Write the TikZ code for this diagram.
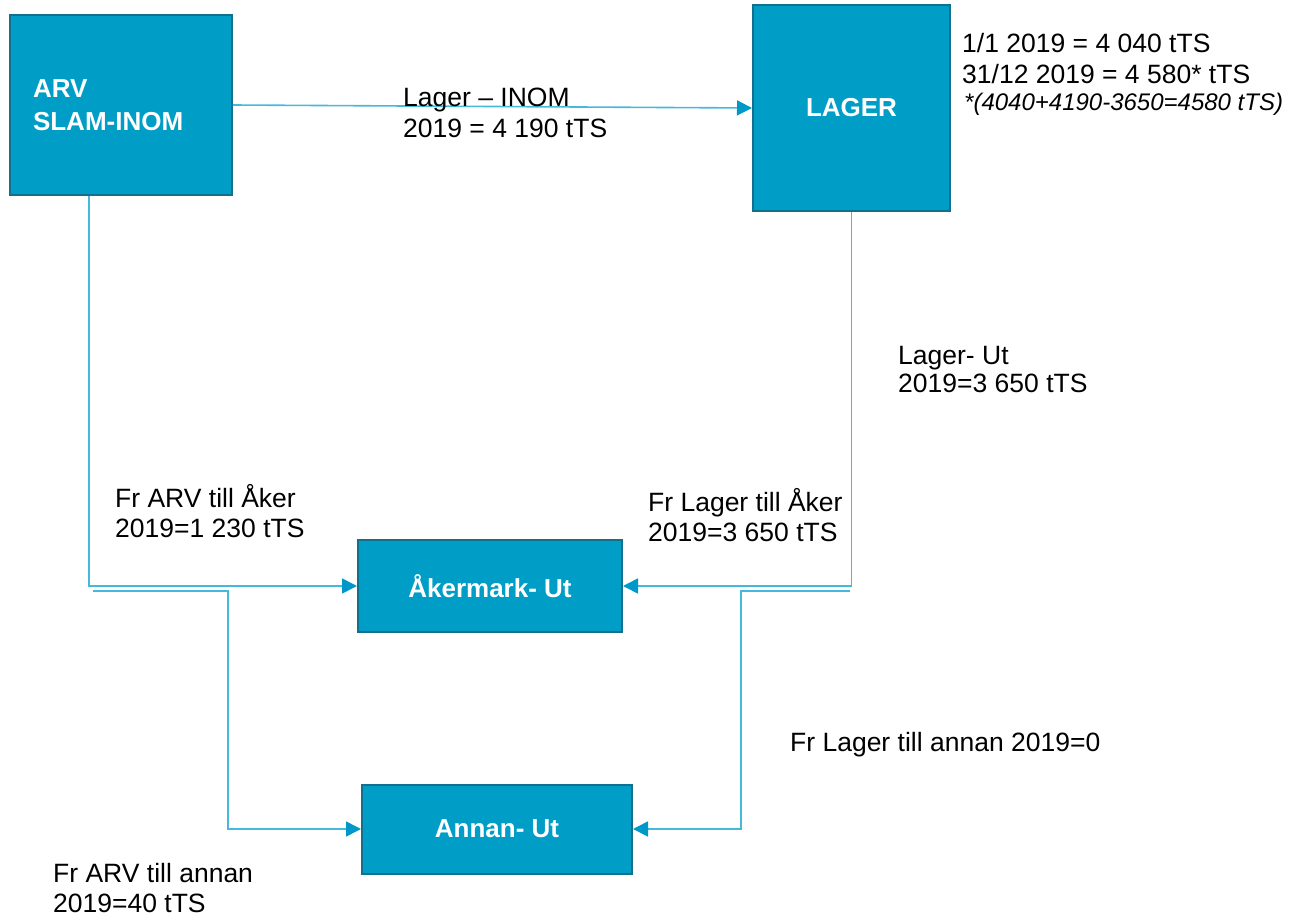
\documentclass[tikz,border=0pt]{standalone}
\usepackage{fontspec}
\setmainfont{Liberation Sans}
\usetikzlibrary{arrows.meta}
\definecolor{boxfill}{RGB}{0,157,199}
\definecolor{boxline}{RGB}{18,112,140}
\definecolor{linec}{RGB}{70,184,222}
\definecolor{tipc}{RGB}{0,152,200}
\tikzset{
  flowbox/.style={draw=boxline, line width=2pt, fill=boxfill, text=white,
    font=\fontsize{26}{33}\selectfont\bfseries, inner sep=0pt},
  conn/.style={draw=linec, line width=1.6pt},
  arr/.style={conn, -{Triangle[length=15pt,width=15pt,color=tipc]}},
  lbl/.style={anchor=base west, inner sep=0pt, font=\fontsize{26.5}{30}\selectfont},
  ilbl/.style={anchor=base west, inner sep=0pt, font=\fontsize{24}{28}\selectfont\itshape}
}
\begin{document}
\begin{tikzpicture}[x=1pt,y=-1pt]
\useasboundingbox (0,0) rectangle (1302,921);
% boxes
\node[flowbox, minimum width=222pt, minimum height=180pt, text width=176pt, align=left] (arv) at (121,105) {ARV\\SLAM-INOM};
\node[flowbox, minimum width=197pt, minimum height=206pt] (lager) at (851.5,108) {LAGER};
\node[flowbox, minimum width=264pt, minimum height=92pt] (aker) at (490,586) {Åkermark- Ut};
\node[flowbox, minimum width=270pt, minimum height=89pt] (annan) at (497,829) {Annan- Ut};
% free ends
\coordinate (l1) at (93,591);
\coordinate (l2) at (228,591);
\coordinate (r1) at (850,591);
\coordinate (r2) at (741,591);
% connectors
\draw[arr] (arv.east) -- (lager.west);
\draw[arr] ([xshift=80pt]arv.south west) |- (aker.west);
\draw[arr] (lager.south) |- (aker.east);
\draw[arr] (l1) -- (l2) |- (annan.west);
\draw[arr] (r1) -- (r2) |- (annan.east);
% labels
\node[lbl] (t1a) at (403,106) {Lager – INOM};
\node[lbl] (t1b) at (403,137) {2019 = 4 190 tTS};
\node[lbl] (t2a) at (962,52) {1/1 2019 = 4 040 tTS};
\node[lbl] (t2b) at (962,83) {31/12 2019 = 4 580* tTS};
\node[ilbl] (t2c) at (964,110) {*(4040+4190-3650=4580 tTS)};
\node[lbl] (t3a) at (898,364) {Lager- Ut};
\node[lbl] (t3b) at (898,392) {2019=3 650 tTS};
\node[lbl] (t4a) at (115,507) {Fr ARV till Åker};
\node[lbl] (t4b) at (115,537) {2019=1 230 tTS};
\node[lbl] (t5a) at (648,511) {Fr Lager till Åker};
\node[lbl] (t5b) at (648,541) {2019=3 650 tTS};
\node[lbl] (t6) at (790,751) {Fr Lager till annan 2019=0};
\node[lbl] (t7a) at (53,882) {Fr ARV till annan};
\node[lbl] (t7b) at (53,912) {2019=40 tTS};
\end{tikzpicture}
\end{document}
